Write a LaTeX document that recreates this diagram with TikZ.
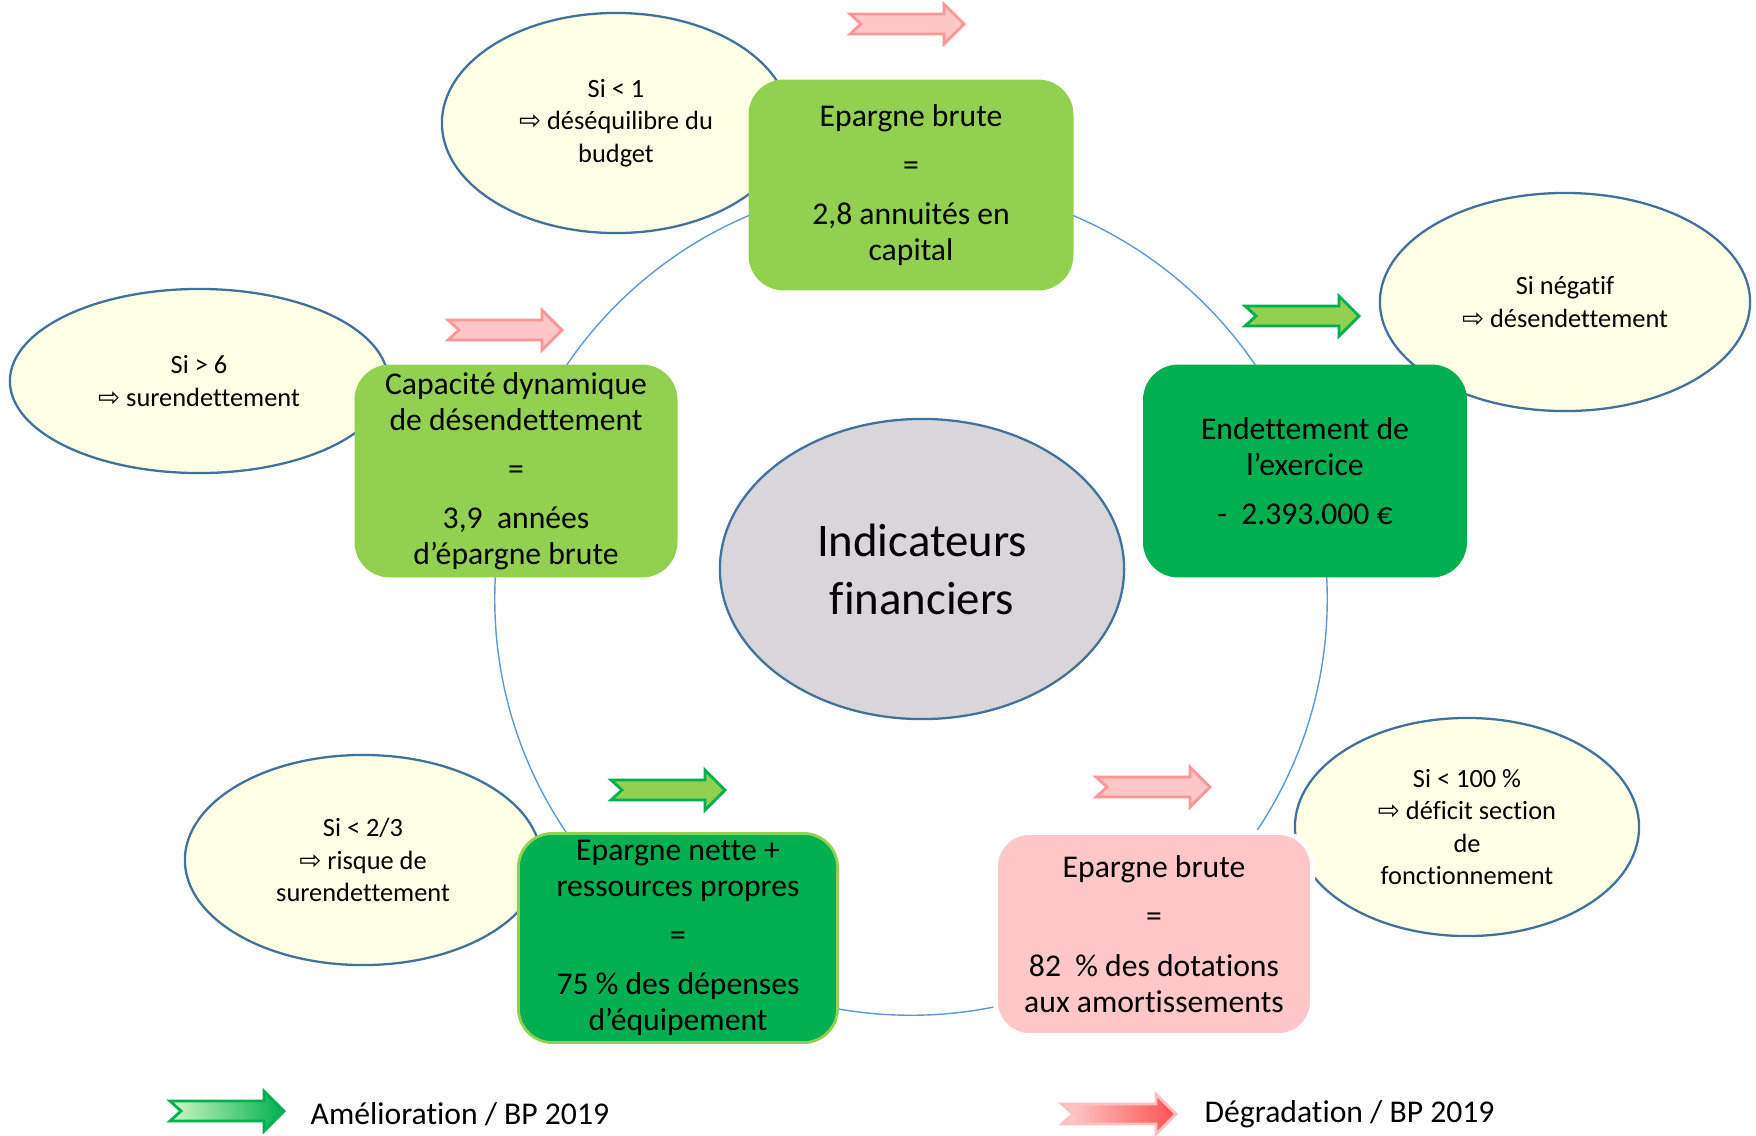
\documentclass[tikz,border=0pt]{standalone}
\usepackage{fontspec}
\setmainfont{Carlito}[Ligatures=NoCommon]
\newfontfamily\symfont{DejaVu Sans}
\usetikzlibrary{shapes.geometric}

\definecolor{vertclair}{RGB}{146,208,80}
\definecolor{vertfonce}{RGB}{0,176,80}
\definecolor{vertpale}{RGB}{210,246,195}
\definecolor{rose}{RGB}{255,199,199}
\definecolor{rosebord}{RGB}{255,150,150}
\definecolor{rosepale}{RGB}{255,208,208}
\definecolor{rouge}{RGB}{255,80,80}
\definecolor{jaunepale}{RGB}{255,255,229}
\definecolor{bordbleu}{RGB}{65,113,156}
\definecolor{anneau}{RGB}{91,155,213}
\definecolor{gris}{RGB}{216,214,217}

\newcommand{\fleche}{{\symfont\fontsize{7.5}{7.5}\selectfont ⇨}\ }

\tikzset{
  bulle/.style={ellipse, draw=bordbleu, line width=0.65pt, fill=jaunepale,
    inner sep=0pt, align=center, font=\fontsize{7.5}{9.2}\selectfont},
  cadre/.style={rounded corners=0.34cm, inner sep=0pt, align=center,
    line width=0.8pt, font=\fontsize{9}{10.2}\selectfont},
  legende/.style={anchor=west, inner sep=0pt, font=\fontsize{9}{10.2}\selectfont},
  pics/blocfleche/.style={code={%
    \path[line width=0.8pt,#1] (0,-10)--(94,-10)--(94,-20)--(114,0)--(94,20)
      --(94,10)--(0,10)--(11,0)--cycle;}},
}

\begin{document}
\begin{tikzpicture}[x=0.01cm, y=-0.01cm]
  \useasboundingbox (0,0) rectangle (1756,1135);

  % anneau derriere les cadres
  \coordinate (centre) at (911,599);
  \draw[anneau, line width=0.4pt] (centre) circle (4.16cm);

  % bulles
  \node[bulle, minimum width=3.48cm, minimum height=2.2cm] (sitop) at (616,123)
    {Si < 1\\ \fleche déséquilibre du\\ budget};
  \node[bulle, minimum width=3.7cm, minimum height=2.18cm] (sineg) at (1565,302)
    {Si négatif\\ \fleche désendettement};
  \node[bulle, minimum width=3.78cm, minimum height=1.84cm] (sisix) at (199,381)
    {Si > 6\\ \fleche surendettement};
  \node[bulle, minimum width=3.56cm, minimum height=2.1cm] (sideux) at (363,860)
    {Si < 2/3\\ \fleche risque de\\ surendettement};
  \node[bulle, minimum width=3.44cm, minimum height=2.18cm] (sicent) at (1467,827)
    {Si < 100 \%\\ \fleche déficit section\\ de\\ fonctionnement};

  \node[ellipse, draw=bordbleu, line width=0.65pt, fill=gris, inner sep=0pt,
    minimum width=4.04cm, minimum height=3cm, align=center,
    font=\fontsize{13.3}{16.5}\selectfont] (indic) at (922,569)
    {Indicateurs\\ financiers};

  % cadres
  \node[cadre, fill=vertclair, draw=vertclair, minimum width=3.22cm,
    minimum height=2.08cm] (ebhaut) at (911,185)
    {Epargne brute\\[3.8pt] =\\[3.8pt] 2,8 annuités en\\ capital};
  \node[cadre, fill=vertclair, draw=vertclair, minimum width=3.2cm,
    minimum height=2.1cm] (cdd) at (516,471)
    {Capacité dynamique\\ de désendettement\\[3.8pt] =\\[3.8pt]
     3,9~~années\\ d’épargne brute};
  \node[cadre, fill=vertfonce, draw=vertfonce, minimum width=3.21cm,
    minimum height=2.1cm] (dette) at (1305,471)
    {Endettement de\\ l’exercice\\[3.8pt] -~~2.393.000 €};
  \node[cadre, fill=vertfonce, draw=vertclair, minimum width=3.19cm,
    minimum height=2.09cm] (enrp) at (678,938)
    {Epargne nette +\\ ressources propres\\[3.8pt] =\\[3.8pt]
     75 \% des dépenses\\ d’équipement};
  \node[cadre, fill=rose, draw=white, line width=1.4pt, minimum width=3.17cm,
    minimum height=2.03cm] (ebbas) at (1154,934)
    {Epargne brute\\[3.8pt] =\\[3.8pt] 82~~\% des dotations\\ aux amortissements};

  % fleches d'evolution
  \pic at (850,24) {blocfleche={draw=rosebord, fill=rose}};
  \pic at (448,330) {blocfleche={draw=rosebord, fill=rose}};
  \pic at (1245,316) {blocfleche={draw=vertfonce, fill=vertclair}};
  \pic at (611,790) {blocfleche={draw=vertfonce, fill=vertclair}};
  \pic at (1096,787) {blocfleche={draw=rosebord, fill=rose}};

  % legende
  \pic at (170,1111) {blocfleche={draw=vertfonce, left color=vertpale,
    middle color=vertclair, right color=vertfonce}};
  \node[legende] (amelio) at (310,1114) {Amélioration / BP 2019};
  \pic at (1062,1114) {blocfleche={draw=rosebord!60, left color=rosepale,
    middle color=rose!70!rouge, right color=rouge}};
  \node[legende] (degrad) at (1204,1114) {Dégradation / BP 2019};
\end{tikzpicture}
\end{document}
